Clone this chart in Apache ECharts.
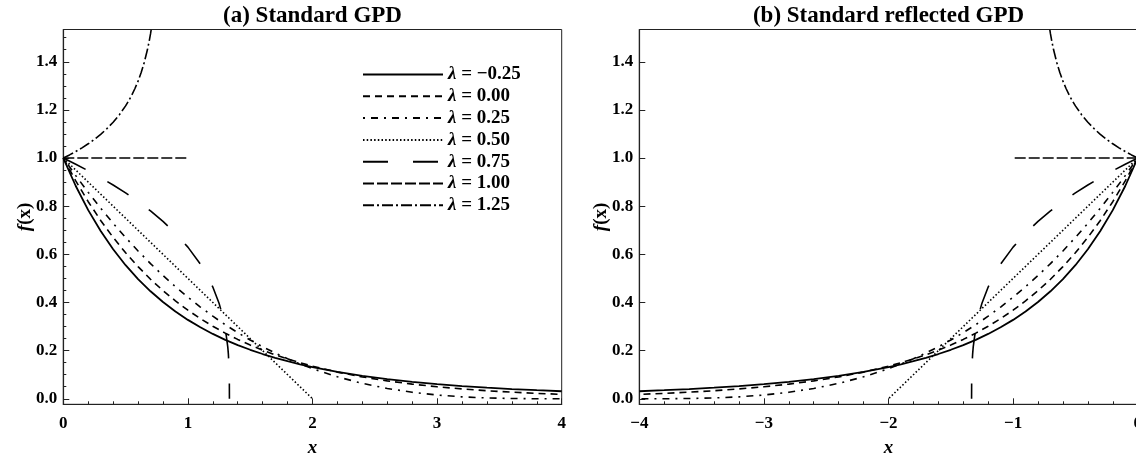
<!DOCTYPE html>
<html>
<head>
<meta charset="utf-8">
<script src="https://cdn.jsdelivr.net/npm/echarts@6/dist/echarts.min.js"></script>
<style>
html,body{margin:0;padding:0;background:#fff;}
#chart{width:1136px;height:457px;}
</style>
</head>
<body>
<div id="chart"></div>
<script>
// ---- data ----
const lambdaNames = ['λ = −0.25', 'λ = 0.00', 'λ = 0.25', 'λ = 0.50', 'λ = 0.75', 'λ = 1.00', 'λ = 1.25'];
const panelTitles = ['(a) Standard GPD', '(b) Standard reflected GPD'];
const yTicks = [0, 0.2, 0.4, 0.6, 0.8, 1.0, 1.2, 1.4];
const yMinorTicks = [0.05, 0.1, 0.15, 0.25, 0.3, 0.35, 0.45, 0.5, 0.55, 0.65, 0.7, 0.75, 0.85, 0.9, 0.95, 1.05, 1.1, 1.15, 1.25, 1.3, 1.35, 1.45, 1.5];

const xFine = [0, 0.1, 0.2, 0.3, 0.4, 0.5, 0.6, 0.7, 0.8, 0.9, 1.0, 1.1, 1.2, 1.3, 1.4, 1.5, 1.6, 1.7, 1.8, 1.9, 2.0, 2.2, 2.4, 2.6, 2.8, 3.0, 3.2, 3.4, 3.6, 3.8, 4.0];
const fLamNeg025 = [1, 0.8839, 0.7835, 0.6966, 0.6209, 0.5549, 0.4972, 0.4465, 0.4019, 0.3625, 0.3277, 0.2968, 0.2693, 0.2449, 0.2230, 0.2035, 0.1859, 0.1702, 0.1560, 0.1432, 0.1317, 0.1118, 0.0954, 0.0818, 0.0704, 0.0609, 0.0529, 0.0461, 0.0404, 0.0355, 0.0313];
const fLam000 = [1, 0.9048, 0.8187, 0.7408, 0.6703, 0.6065, 0.5488, 0.4966, 0.4493, 0.4066, 0.3679, 0.3329, 0.3012, 0.2725, 0.2466, 0.2231, 0.2019, 0.1827, 0.1653, 0.1496, 0.1353, 0.1108, 0.0907, 0.0743, 0.0608, 0.0498, 0.0408, 0.0334, 0.0273, 0.0224, 0.0183];
const fLam025 = [1, 0.9269, 0.8574, 0.7915, 0.7290, 0.6699, 0.6141, 0.5615, 0.5120, 0.4655, 0.4219, 0.3811, 0.3430, 0.3075, 0.2746, 0.2441, 0.2160, 0.1901, 0.1664, 0.1447, 0.1250, 0.0911, 0.0640, 0.0429, 0.0270, 0.0156, 0.0080, 0.0034, 0.0010, 0.0001, 0];
const xLam050 = [0, 1, 2];
const fLam050 = [1, 0.5, 0];
const xLam075 = [0, 0.1, 0.2, 0.3, 0.4, 0.5, 0.6, 0.7, 0.8, 0.9, 1.0, 1.1, 1.15, 1.2, 1.25, 1.28, 1.3, 1.32, 1.325, 1.33, 1.3325, 1.3333];
const fLam075 = [1, 0.9743, 0.9473, 0.9186, 0.8879, 0.8550, 0.8193, 0.7802, 0.7368, 0.6875, 0.6300, 0.5593, 0.5161, 0.4642, 0.3969, 0.3420, 0.2924, 0.2154, 0.1842, 0.1357, 0.0855, 0];
const xLam100 = [0, 1];
const fLam100 = [1, 1];
const xLam125 = [0, 0.05, 0.1, 0.15, 0.2, 0.25, 0.3, 0.35, 0.4, 0.45, 0.5, 0.525, 0.55, 0.575, 0.6, 0.625, 0.65, 0.675, 0.6875, 0.7, 0.71, 0.72];
const fLam125 = [1, 1.0130, 1.0271, 1.0424, 1.0592, 1.0778, 1.0986, 1.1220, 1.1487, 1.1798, 1.2167, 1.2381, 1.2619, 1.2888, 1.3195, 1.3552, 1.3977, 1.4496, 1.4804, 1.5157, 1.5481, 1.5849];

const curveX = [xFine, xFine, xFine, xLam050, xLam075, xLam100, xLam125];
const curveY = [fLamNeg025, fLam000, fLam025, fLam050, fLam075, fLam100, fLam125];

// ---- styles ----
const FONT = '"Liberation Serif", "Times New Roman", "DejaVu Serif", serif';
const INK = '#000';
const FRAME = '#222';
const dashes = ['solid', [7, 5], [2, 6, 7, 6], [1.5, 2.2], [25, 25], [11, 3], [11, 3, 2, 3]];
const widths = [1.8, 1.6, 1.6, 1.6, 1.6, 1.6, 1.6];

const gridLeft = [63.3, 639.3];
const gridW = 498.4;
const gridTop = 29.5;
const gridH = 374.8;
const Y_MIN = -0.023, Y_MAX = 1.534;

const grids = [], xAxes = [], yAxes = [], series = [], titles = [];
for (let p = 0; p < 2; p++) {
  grids.push({ left: gridLeft[p], top: gridTop, width: gridW, height: gridH, containLabel: false, outerBoundsMode: 'none',
    show: true, borderColor: FRAME, borderWidth: 1, backgroundColor: 'transparent' });
  titles.push({
    text: panelTitles[p], left: gridLeft[p] + gridW / 2 - 5, top: 0, textAlign: 'center',
    textStyle: { fontFamily: FONT, fontWeight: 'bold', fontSize: 23, color: INK }
  });
  xAxes.push({
    gridIndex: p, type: 'value', min: p ? -4 : 0, max: p ? 0 : 4, interval: 1,
    axisLine: { show: true, onZero: false, lineStyle: { color: FRAME, width: 1.2 } },
    axisTick: { show: true, inside: true, length: 6, lineStyle: { color: FRAME } },
    minorTick: { show: true, splitNumber: 5, length: 3, lineStyle: { color: FRAME } },
    splitLine: { show: false }, minorSplitLine: { show: false },
    axisLabel: { margin: 11, color: INK, fontFamily: FONT, fontWeight: 'bold', fontSize: 17,
      formatter: v => (v < 0 ? '−' + Math.abs(v) : String(v)) },
    name: 'x', nameLocation: 'middle', nameGap: 34, nameMoveOverlap: false,
    nameTextStyle: { fontFamily: FONT, fontStyle: 'italic', fontWeight: 'bold', fontSize: 19, color: INK }
  });
  yAxes.push({
    gridIndex: p, type: 'value', min: Y_MIN, max: Y_MAX,
    axisLine: { show: true, onZero: false, lineStyle: { color: FRAME, width: 1.2 } },
    axisTick: { show: true, inside: true, length: 6, customValues: yTicks, lineStyle: { color: FRAME } },
    splitLine: { show: false },
    axisLabel: { margin: 6, customValues: yTicks, color: INK, fontFamily: FONT, fontWeight: 'bold', fontSize: 17,
      formatter: v => Number(v).toFixed(1) },
    name: '{i|f}(x)', nameLocation: 'middle', nameGap: 29, nameRotate: 90, nameMoveOverlap: false,
    nameTextStyle: { fontFamily: FONT, fontWeight: 'bold', fontSize: 19, color: INK,
      rich: { i: { fontFamily: FONT, fontStyle: 'italic', fontWeight: 'bold', fontSize: 19, color: INK } } }
  });
}
// minor y ticks
for (let p = 0; p < 2; p++) {
  yAxes.push({
    gridIndex: p, type: 'value', min: Y_MIN, max: Y_MAX, position: 'left',
    axisLine: { show: false }, splitLine: { show: false }, axisLabel: { show: false },
    axisTick: { show: true, inside: true, length: 3, customValues: yMinorTicks, lineStyle: { color: FRAME } }
  });
}

for (let p = 0; p < 2; p++) {
  for (let k = 0; k < lambdaNames.length; k++) {
    const xs = curveX[k], ys = curveY[k];
    const pts = xs.map((x, i) => [p ? -x : x, ys[i]]);
    series.push({
      name: lambdaNames[k], type: 'line', xAxisIndex: p, yAxisIndex: p,
      data: pts, symbol: 'none', showSymbol: false, clip: true, smooth: false,
      lineStyle: { color: INK, width: widths[k], type: dashes[k] },
      itemStyle: { color: 'rgba(0,0,0,0)', borderWidth: 0 },
      emphasis: { disabled: true }, animation: false, silent: true
    });
  }
}

const chart = echarts.init(document.getElementById('chart'), null, { renderer: 'canvas' });
chart.setOption({
  animation: false,
  backgroundColor: '#fff',
  title: titles,
  grid: grids,
  xAxis: xAxes,
  yAxis: yAxes,
  legend: {
    orient: 'vertical', left: 357, top: 60, itemWidth: 80, itemHeight: 20, itemGap: 2.8,
    data: lambdaNames, selectedMode: false,
    itemStyle: { color: 'rgba(0,0,0,0)', borderWidth: 0, opacity: 0 },
    textStyle: { fontFamily: FONT, fontWeight: 'bold', fontSize: 19, color: INK,
      rich: { i: { fontFamily: FONT, fontStyle: 'italic', fontWeight: 'bold', fontSize: 19, color: INK } } },
    formatter: n => '{i|λ}' + n.slice(1)
  },
  series: series
});
</script>
</body>
</html>
